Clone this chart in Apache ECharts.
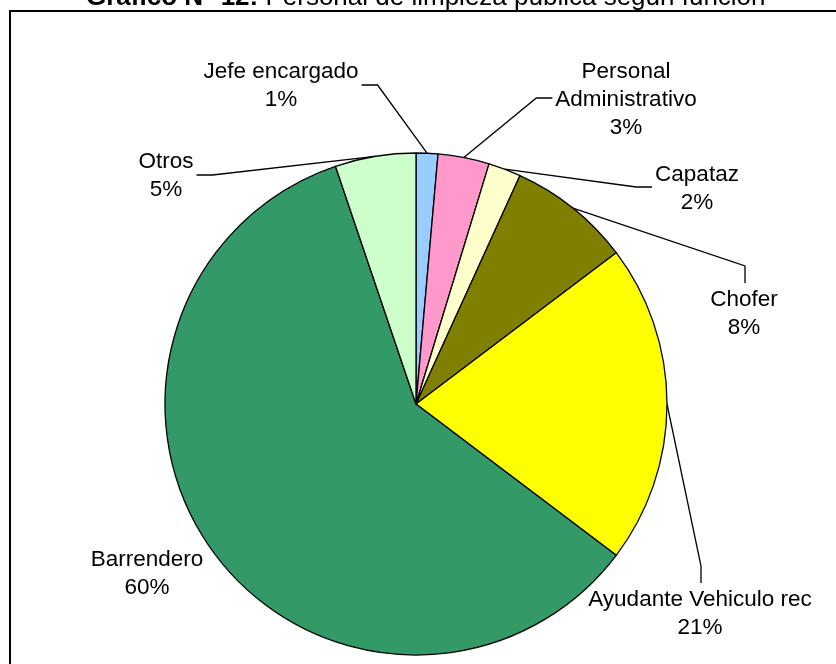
<!DOCTYPE html>
<html>
<head>
<meta charset="utf-8">
<script src="https://cdn.jsdelivr.net/npm/echarts@6/dist/echarts.min.js"></script>
<style>
html,body{margin:0;padding:0;background:#fff;}
#chart{width:836px;height:664px;}
</style>
</head>
<body>
<div id="chart"></div>
<script>
// Data (percent shares)
var categories = ['Jefe encargado', 'Personal\nAdministrativo', 'Capataz', 'Chofer', 'Ayudante Vehiculo rec', 'Barrendero', 'Otros'];
var values = [1.4, 3.3, 2.1, 7.9, 20.6, 59.5, 5.2];

// Styles / layout (kept apart from the data)
var colors = ['#99CCFF', '#FF99CC', '#FFFFCC', '#808000', '#FFFF00', '#339966', '#CCFFCC'];
// label centre, and where the leader line meets the label
var labelPlaces = [
  {x: 281, y: 86, side: 'right'},
  {x: 626, y: 100, side: 'left'},
  {x: 697, y: 189, side: 'left'},
  {x: 744, y: 314, side: 'top'},
  {x: 700, y: 614, side: 'top'},
  {x: 147, y: 574, side: 'none'},
  {x: 166, y: 176, side: 'right'}
];

var FONT = 'Liberation Sans, Arial, sans-serif';
var chart = echarts.init(document.getElementById('chart'), null, {renderer: 'canvas'});

var seriesData = categories.map(function (c, i) {
  var item = {name: c, value: values[i], itemStyle: {color: colors[i]}};
  if (labelPlaces[i].side === 'none') item.labelLine = {show: false};
  return item;
});

chart.setOption({
  animation: false,
  backgroundColor: '#ffffff',
  title: {
    text: '{b|Gráfico N° 12:} Personal de limpieza pública según función',
    left: 81,
    top: -20,
    textStyle: {
      fontFamily: FONT, fontSize: 26, fontWeight: 'normal', color: '#000',
      rich: {b: {fontFamily: FONT, fontSize: 26, fontWeight: 'bold', color: '#000'}}
    }
  },
  graphic: [{
    type: 'rect',
    shape: {x: 10, y: 11, width: 900, height: 720},
    style: {fill: 'none', stroke: '#000', lineWidth: 2},
    z: 0, silent: true
  }],
  series: [{
    type: 'pie',
    center: [416, 404],
    radius: 251,
    startAngle: 90,
    clockwise: true,
    avoidLabelOverlap: false,
    itemStyle: {borderColor: '#000', borderWidth: 1.3},
    label: {
      show: true,
      position: 'outside',
      fontFamily: FONT,
      fontSize: 22.5,
      lineHeight: 28,
      color: '#000',
      align: 'center',
      formatter: function (p) { return p.name + '\n' + Math.round(p.percent) + '%'; }
    },
    labelLine: {show: true, length: 10, length2: 10, lineStyle: {color: '#000', width: 1.3}},
    labelLayout: function (params) {
      var pl = labelPlaces[params.dataIndex];
      var w = params.labelRect.width, h = params.labelRect.height;
      var res = {x: pl.x, y: pl.y, align: 'center', verticalAlign: 'middle'};
      var p0 = params.labelLinePoints ? params.labelLinePoints[0] : null;
      if (p0 && pl.side !== 'none') {
        var end, elbow;
        if (pl.side === 'right') {
          end = [pl.x + w / 2 + 3, pl.y - 1];
          elbow = [end[0] + 16, end[1]];
        } else if (pl.side === 'left') {
          end = [pl.x - w / 2 - 3, pl.y - 2];
          elbow = [end[0] - 16, end[1]];
        } else {
          end = [pl.x + 1, pl.y - h / 2 - 3];
          elbow = [end[0], end[1] - 17];
        }
        res.labelLinePoints = [p0, elbow, end];
      }
      return res;
    },
    data: seriesData
  }]
});
</script>
</body>
</html>
